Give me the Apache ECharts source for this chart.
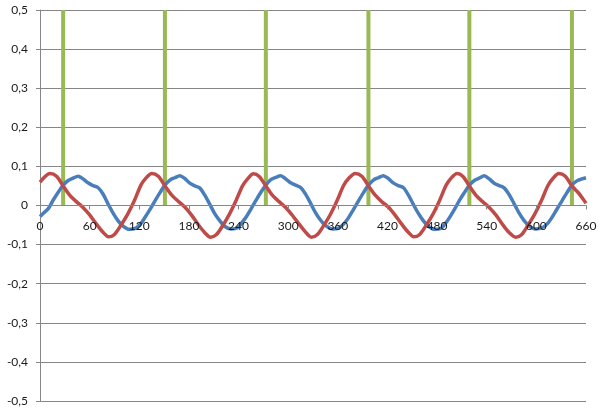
<!DOCTYPE html>
<html><head><meta charset="utf-8">
<script src="https://cdn.jsdelivr.net/npm/echarts@6/dist/echarts.min.js"></script>
<style>html,body{margin:0;padding:0;background:#fff}#c{width:605px;height:412px}</style>
</head><body><div id="c"></div>
<script>
// Green marker positions (x values)
var greenX = [28, 151, 273, 397, 519, 643];
var greenTop = 0.5;

// Blue series: [x, y]
var blueData = [
 [0,-0.028],[5,-0.018],[10,-0.008],[16,0.014],[22,0.034],[28,0.052],
 [34,0.064],[40,0.070],[46,0.075],[52,0.068],[58,0.058],[64,0.051],[70,0.046],[76,0.030],[82,0.005],[88,-0.018],[94,-0.038],[100,-0.052],[108,-0.061],[116,-0.058],
 [122,-0.046],[127,-0.030],[133,-0.010],[139,0.012],[145,0.033],[151,0.052],
 [157,0.065],[163,0.071],[169,0.076],[175,0.069],[181,0.057],[187,0.050],[193,0.045],[199,0.027],[205,0.004],[211,-0.020],[217,-0.038],[223,-0.053],[231,-0.060],[239,-0.057],
 [244,-0.044],[249,-0.030],[255,-0.009],[261,0.013],[267,0.034],[273,0.052],
 [279,0.066],[285,0.072],[291,0.076],[297,0.068],[303,0.058],[309,0.052],[315,0.046],[321,0.029],[327,0.006],[333,-0.018],[339,-0.037],[345,-0.051],[353,-0.060],[361,-0.058],
 [368,-0.045],[373,-0.031],[379,-0.010],[385,0.012],[391,0.033],[397,0.052],
 [403,0.065],[409,0.071],[415,0.076],[421,0.069],[427,0.058],[433,0.051],[439,0.046],[445,0.028],[451,0.004],[457,-0.019],[463,-0.038],[469,-0.052],[477,-0.061],[485,-0.058],
 [490,-0.046],[495,-0.031],[501,-0.010],[507,0.013],[513,0.033],[519,0.052],
 [525,0.064],[531,0.070],[537,0.076],[543,0.068],[549,0.057],[555,0.051],[561,0.045],[567,0.028],[573,0.005],[579,-0.019],[585,-0.038],[591,-0.052],[599,-0.060],[607,-0.057],
 [614,-0.045],[619,-0.030],[625,-0.009],[631,0.012],[637,0.033],[643,0.052],
 [649,0.063],[655,0.068],[660,0.071]
];

// Red series: [x, y]
var redData = [
 [0,0.060],[6,0.074],[12,0.082],[20,0.075],[28,0.050],
 [36,0.026],[44,0.010],[52,-0.005],[60,-0.024],[68,-0.047],[76,-0.068],[83,-0.080],[90,-0.074],[98,-0.050],[106,-0.022],[114,0.012],[122,0.052],[128,0.070],[135,0.082],[143,0.075],[151,0.050],
 [159,0.027],[167,0.011],[175,-0.004],[183,-0.024],[191,-0.048],[199,-0.069],[206,-0.081],[213,-0.075],[221,-0.051],[229,-0.022],[237,0.013],[245,0.051],[251,0.068],[258,0.081],[265,0.074],[273,0.050],
 [281,0.026],[289,0.010],[297,-0.005],[305,-0.025],[313,-0.047],[321,-0.068],[328,-0.081],[335,-0.075],[343,-0.051],[351,-0.023],[359,0.012],[367,0.051],[373,0.069],[381,0.082],[389,0.075],[397,0.050],
 [405,0.027],[413,0.010],[421,-0.004],[429,-0.024],[437,-0.047],[445,-0.068],[452,-0.080],[459,-0.074],[467,-0.050],[475,-0.022],[483,0.013],[491,0.052],[497,0.070],[504,0.082],[511,0.075],[519,0.050],
 [527,0.026],[535,0.010],[543,-0.005],[551,-0.024],[559,-0.048],[567,-0.069],[575,-0.081],[582,-0.075],[590,-0.050],[598,-0.022],[606,0.012],[614,0.051],[620,0.069],[627,0.082],[635,0.075],[643,0.050],
 [651,0.032],[656,0.018],[660,0.006]
];

var W = 605, H = 412;
var gridTop = 10, gridBottom = 11;
var yMin = -0.5, yMax = 0.5;
// distance from grid bottom to the y=0 line, so the x axis sits on zero
var zeroOffset = (H - gridTop - gridBottom) * (0 - yMin) / (yMax - yMin);

var chart = echarts.init(document.getElementById('c'), null, {renderer:'canvas'});
var axisColor = '#868686';
var fontFam = 'Lato, "Open Sans", sans-serif';
chart.setOption({
  animation: false,
  backgroundColor: '#fff',
  grid: {left: 40, right: 19, top: gridTop, bottom: gridBottom, containLabel: false},
  xAxis: {
    type: 'value', min: 0, max: 660, interval: 60, z: 10,
    position: 'bottom', offset: -zeroOffset,
    axisLine: {show: true, onZero: false, lineStyle: {color: axisColor, width: 1}},
    axisTick: {show: true, inside: false, length: 4, lineStyle: {color: axisColor}},
    axisLabel: {color: '#1a1a1a', fontFamily: fontFam, fontSize: 12, margin: 15},
    splitLine: {show: false}
  },
  yAxis: {
    type: 'value', min: yMin, max: yMax, interval: 0.1,
    axisLine: {show: true, onZero: false, lineStyle: {color: axisColor, width: 1}},
    axisTick: {show: true, length: 4, lineStyle: {color: axisColor}},
    axisLabel: {color: '#1a1a1a', fontFamily: fontFam, fontSize: 12, margin: 12,
      formatter: function(v){ var r = Math.round(v*10)/10; return r === 0 ? '0' : r.toFixed(1).replace('.', ','); }},
    splitLine: {show: true, lineStyle: {color: axisColor, width: 1}}
  },
  series: [
    {type: 'bar', data: greenX.map(function(g){return [g, greenTop];}), barWidth: 4,
     itemStyle: {color: '#98B954'}, z: 1, silent: true},
    {type: 'line', data: blueData, showSymbol: false, symbol: 'none', smooth: 0.3,
     lineStyle: {color: '#4A7EBB', width: 3.5}, z: 3},
    {type: 'line', data: redData, showSymbol: false, symbol: 'none', smooth: 0.3,
     lineStyle: {color: '#BE4B48', width: 3.5}, z: 4}
  ]
});
</script></body></html>
